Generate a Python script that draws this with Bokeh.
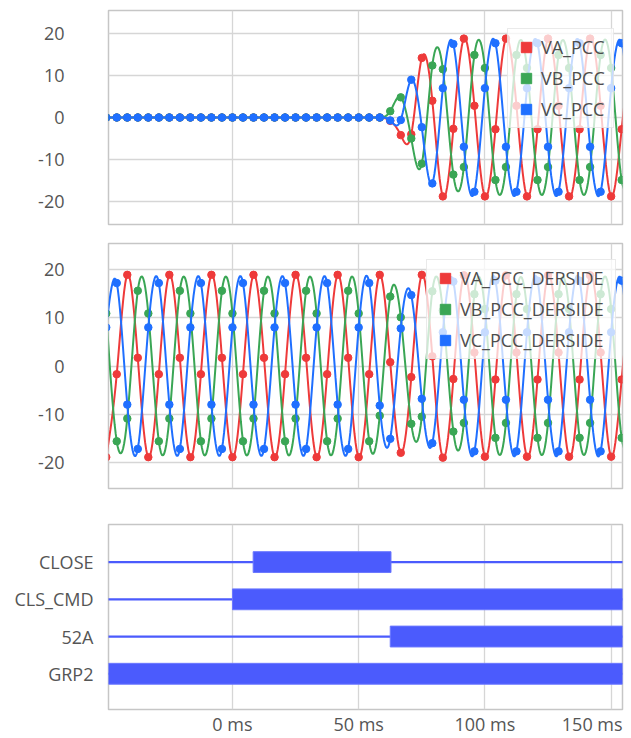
import numpy as np
from bokeh.plotting import figure
from bokeh.models import FixedTicker, Legend, LegendItem, Range1d
from bokeh.layouts import column
from bokeh.embed import file_html
from bokeh.resources import INLINE

# ---------------- data ----------------
SAMPLE_PERIOD_MS = 1000.0 / 240.0          # 4 samples per 60 Hz cycle
SAMPLE_INDEX = list(range(-12, 39))        # 51 samples, -50 ms .. 158 ms

VA_PCC = [0.0] * 27 + [-0.8, -4.2, -4.0, 14.2, 4.0, -18.8, -2.7, 18.8,
          2.8, -18.8, -2.8, 18.8, 2.8, -18.8, -2.8, 18.8,
          2.8, -18.8, -2.8, 18.8, 2.8, -18.8, -2.8, 18.8]
VB_PCC = [0.0] * 27 + [1.5, 4.8, -5.0, -11.0, 12.4, 11.5, -13.6, -11.8,
          14.9, 11.8, -14.9, -11.8, 14.9, 11.8, -14.9, -11.8,
          14.9, 11.8, -14.9, -11.8, 14.9, 11.8, -14.9, -11.8]
VC_PCC = [0.0] * 27 + [-0.7, -0.6, 9.0, -2.3, -15.7, 7.0, 17.5, -7.0,
          -17.7, 7.0, 17.7, -7.0, -17.7, 7.0, 17.7, -7.0,
          -17.7, 7.0, 17.7, -7.0, -17.7, 7.0, 17.7, -7.0]

VA_DER = [-18.9, -1.7, 18.9, 1.7, -18.9, -1.7, 18.9, 1.7, -18.9, -1.7, 18.9, 1.7,
          -18.9, -1.7, 18.9, 1.7, -18.9, -1.7, 18.9, 1.7, -18.9, -1.7, 18.9, 1.7,
          -18.9, -1.7,
          18.9, 0.8, -18.0, -2.3, 18.9, 2.0, -19.0, -2.7, 18.8,
          2.8, -18.8, -2.8, 18.8, 2.8, -18.8, -2.8, 18.8,
          2.8, -18.8, -2.8, 18.8, 2.8, -18.8, -2.8, 18.8]
VB_DER = [10.9, -15.6, -10.9, 15.6, 10.9, -15.6, -10.9, 15.6, 10.9, -15.6, -10.9, 15.6,
          10.9, -15.6, -10.9, 15.6, 10.9, -15.6, -10.9, 15.6, 10.9, -15.6, -10.9, 15.6,
          10.9, -15.6,
          -10.3, 14.4, 10.1, -12.0, -10.5, 15.5, 11.5, -13.6, -11.8,
          14.9, 11.8, -14.9, -11.8, 14.9, 11.8, -14.9, -11.8,
          14.9, 11.8, -14.9, -11.8, 14.9, 11.8, -14.9, -11.8]
VC_DER = [8.0, 17.2, -8.0, -17.2, 8.0, 17.2, -8.0, -17.2, 8.0, 17.2, -8.0, -17.2,
          8.0, 17.2, -8.0, -17.2, 8.0, 17.2, -8.0, -17.2, 8.0, 17.2, -8.0, -17.2,
          8.0, 17.2,
          -8.2, -15.1, 7.8, 14.7, -6.8, -16.0, 7.0, 17.5, -7.0,
          -17.7, 7.0, 17.7, -7.0, -17.7, 7.0, 17.7, -7.0,
          -17.7, 7.0, 17.7, -7.0, -17.7, 7.0, 17.7, -7.0]

PCC_NAMES = ["VA_PCC", "VB_PCC", "VC_PCC"]
DER_NAMES = ["VA_PCC_DERSIDE", "VB_PCC_DERSIDE", "VC_PCC_DERSIDE"]

DIGITAL_NAMES = ["CLOSE", "CLS_CMD", "52A", "GRP2"]
DIGITAL_ROW = [4, 3, 2, 1]
DIGITAL_ON_MS = [8.2, 0.0, 62.5, -60.0]
DIGITAL_OFF_MS = [62.8, 170.0, 170.0, 170.0]

GRID_TICKS_MS = [0, 50, 100, 150]
X_LABEL_POS_MS = [0, 50, 100, 142.5]
X_LABELS = ["0 ms", "50 ms", "100 ms", "150 ms"]
Y_TICKS = [-20, -10, 0, 10, 20]
Y_LABELS = ["-20", "-10", "0", "10", "20"]

# ---------------- styling ----------------
FONT = "Open Sans"
RED, GREEN, BLUE = "#ee3a3a", "#3aa655", "#1f6fff"
DIG = "#4b5bfd"
TICK_COLOR = "#555555"
X_RANGE = (-49.1, 154.5)
FIG_W = 624


def smooth(t, v, n=10):
    """Natural cubic spline through the samples (rendering only)."""
    t = np.asarray(t, float)
    v = np.asarray(v, float)
    N = len(t)
    h = np.diff(t)
    A = np.zeros((N, N))
    rhs = np.zeros(N)
    A[0, 0] = A[-1, -1] = 1.0
    for i in range(1, N - 1):
        A[i, i - 1] = h[i - 1]
        A[i, i] = 2 * (h[i - 1] + h[i])
        A[i, i + 1] = h[i]
        rhs[i] = 6 * ((v[i + 1] - v[i]) / h[i] - (v[i] - v[i - 1]) / h[i - 1])
    M = np.linalg.solve(A, rhs)
    xs, ys = [], []
    for i in range(N - 1):
        s = np.linspace(0, 1, n, endpoint=False)
        a, b = 1 - s, s
        xs.extend(t[i] + s * h[i])
        ys.extend(a * v[i] + b * v[i + 1]
                  + ((a ** 3 - a) * M[i] + (b ** 3 - b) * M[i + 1]) * h[i] ** 2 / 6)
    xs.append(t[-1])
    ys.append(v[-1])
    return xs, ys


def base_fig(height, y_range, top, bottom):
    p = figure(width=FIG_W, height=height, x_range=Range1d(*X_RANGE),
               y_range=Range1d(*y_range), output_backend="svg",
               toolbar_location=None, min_border_left=108, min_border_right=2,
               min_border_top=top, min_border_bottom=bottom)
    p.outline_line_color = "#c6c6c6"
    p.outline_line_width = 1.5
    p.background_fill_color = "white"
    p.border_fill_color = "white"
    p.xaxis.ticker = FixedTicker(ticks=GRID_TICKS_MS)
    p.xgrid.ticker = FixedTicker(ticks=GRID_TICKS_MS)
    p.xgrid.grid_line_color = "#d6d6d6"
    p.xgrid.grid_line_width = 1.3
    for ax in (p.xaxis, p.yaxis):
        ax.axis_line_color = None
        ax.major_tick_line_color = None
        ax.minor_tick_line_color = None
        ax.major_tick_out = 0
        ax.major_tick_in = 0
        ax.major_label_text_font = FONT
        ax.major_label_text_font_size = "18px"
        ax.major_label_text_color = TICK_COLOR
    return p


def analog_fig(height, y_range, top, bottom, series, names, legend_xy, label_w):
    p = base_fig(height, y_range, top, bottom)
    p.xaxis.visible = False
    p.yaxis.ticker = FixedTicker(ticks=Y_TICKS)
    p.yaxis.major_label_overrides = {v: s for v, s in zip(Y_TICKS, Y_LABELS)}
    p.ygrid.ticker = FixedTicker(ticks=Y_TICKS)
    p.ygrid.grid_line_color = "#d6d6d6"
    p.ygrid.grid_line_width = 1.3
    p.yaxis.major_label_standoff = 44
    t = [k * SAMPLE_PERIOD_MS for k in SAMPLE_INDEX]
    items = []
    for vals, color, name in zip(series, (RED, GREEN, BLUE), names):
        xs, ys = smooth(t, vals)
        p.line(xs, ys, line_color=color, line_width=2)
        p.scatter(t, vals, size=7.5, marker="circle", fill_color=color, line_color=color)
        # legend swatch only: one point placed far outside the visible range
        sq = p.scatter(x=[-1000.0], y=[0.0], marker="square",
                       fill_color=color, line_color=color)
        items.append(LegendItem(label=name, renderers=[sq]))
    leg = Legend(items=items, location=legend_xy, orientation="vertical",
                 label_text_font=FONT, label_text_font_size="18px",
                 label_text_color="#4d4d4d", glyph_width=26, glyph_height=26,
                 label_height=24, label_width=label_w, label_standoff=2,
                 padding=5, spacing=5, margin=0,
                 border_line_color="#d6d6d6", border_line_width=1,
                 background_fill_color="white", background_fill_alpha=0.75)
    p.add_layout(leg)
    return p


p1 = analog_fig(236, (-25.5, 25.5), 10, 12, [VA_PCC, VB_PCC, VC_PCC],
                PCC_NAMES, (399, 96), 67)
p2 = analog_fig(264, (-25.4, 25.4), 7, 12, [VA_DER, VB_DER, VC_DER],
                DER_NAMES, (318, 129), 150)

# ---------------- digital channels ----------------
p3 = base_fig(238, (0.04, 5.01), 24, 27)
p3.ygrid.visible = False
p3.yaxis.ticker = FixedTicker(ticks=DIGITAL_ROW)
p3.yaxis.major_label_overrides = {r: n for r, n in zip(DIGITAL_ROW, DIGITAL_NAMES)}
p3.yaxis.major_label_standoff = 15
p3.xaxis.ticker = FixedTicker(ticks=X_LABEL_POS_MS)
p3.xaxis.major_label_overrides = {x: s for x, s in zip(X_LABEL_POS_MS, X_LABELS)}
p3.xaxis.major_label_standoff = 2

p3.segment(x0=[X_RANGE[0] - 20] * 4, x1=[X_RANGE[1] + 20] * 4,
           y0=DIGITAL_ROW, y1=DIGITAL_ROW, line_color=DIG, line_width=2.2)
p3.hbar(y=DIGITAL_ROW, left=DIGITAL_ON_MS, right=DIGITAL_OFF_MS, height=0.56,
        fill_color=DIG, line_color="#6b78ff", line_width=1)

layout = column(p1, p2, p3, spacing=0)
open("out.html", "w").write(file_html(layout, INLINE))
